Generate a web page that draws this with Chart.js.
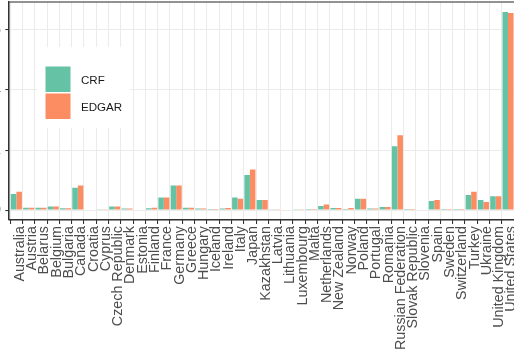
<!DOCTYPE html>
<html>
<head>
<meta charset="utf-8">
<script src="https://cdn.jsdelivr.net/npm/chart.js@4"></script>
<style>
  html, body { margin: 0; padding: 0; background: #fff; overflow: hidden; }
  #wrap { position: relative; width: 514px; height: 356px; overflow: hidden; }
  #box { position: absolute; left: -30px; top: 0; width: 550px; height: 356px; }
</style>
</head>
<body>
<div id="wrap"><div id="box"><canvas id="c"></canvas></div></div>
<script>
// Greenhouse gas totals per country, CRF inventory vs EDGAR estimate
const countries = [
  'Australia', 'Austria', 'Belarus', 'Belgium', 'Bulgaria', 'Canada', 'Croatia',
  'Cyprus', 'Czech Republic', 'Denmark', 'Estonia', 'Finland', 'France', 'Germany',
  'Greece', 'Hungary', 'Iceland', 'Ireland', 'Italy', 'Japan', 'Kazakhstan',
  'Latvia', 'Lithuania', 'Luxembourg', 'Malta', 'Netherlands', 'New Zealand',
  'Norway', 'Poland', 'Portugal', 'Romania', 'Russian Federation', 'Slovak Republic',
  'Slovenia', 'Spain', 'Sweden', 'Switzerland', 'Turkey', 'Ukraine',
  'United Kingdom', 'United States'
];
const crf = [
  0.54, 0.08, 0.08, 0.12, 0.06, 0.74, 0.02,
  0.01, 0.12, 0.05, 0.02, 0.06, 0.42, 0.82,
  0.08, 0.05, 0.005, 0.05, 0.42, 1.17, 0.34,
  0.01, 0.02, 0.01, 0.003, 0.14, 0.07,
  0.04, 0.38, 0.05, 0.10, 2.13, 0.04,
  0.02, 0.30, 0.04, 0.04, 0.50, 0.34,
  0.46, 6.60
];
const edgar = [
  0.61, 0.08, 0.08, 0.12, 0.06, 0.82, 0.02,
  0.01, 0.12, 0.05, 0.02, 0.08, 0.42, 0.82,
  0.08, 0.05, 0.005, 0.07, 0.38, 1.35, 0.34,
  0.01, 0.02, 0.01, 0.003, 0.19, 0.07,
  0.07, 0.38, 0.05, 0.10, 2.49, 0.04,
  0.02, 0.34, 0.04, 0.04, 0.61, 0.27,
  0.46, 6.56
];
const seriesNames = ['CRF', 'EDGAR'];
const seriesColors = ['#66C2A5', '#FC8D62'];
const yTicks = [0, 2, 4, 6];

const FONT = "'Liberation Sans', Arial, sans-serif";
const INK = '#333333';
const GRID = '#EBEBEB';

// ggplot-style discrete expansion of 0.6 categories, 5% on the value axis
const yMax = Math.max(...crf, ...edgar);
const yPad = yMax * 0.05;

const panelFrame = {
  id: 'panelFrame',
  afterDatasetsDraw(chart) {
    const ctx = chart.ctx;
    const a = chart.chartArea;
    // legend box drawn inside the panel
    const lx = 67, ly = 47;
    ctx.save();
    ctx.fillStyle = '#ffffff';
    ctx.fillRect(lx, ly, 93, 81);
    chart.data.datasets.forEach((ds, i) => {
      const ky = ly + 19.5 + i * 27;
      ctx.fillStyle = ds.backgroundColor;
      ctx.fillRect(lx + 8.5, ky, 25, 25.5);
      ctx.fillStyle = '#1a1a1a';
      ctx.font = '11.6px ' + FONT;
      ctx.textBaseline = 'middle';
      ctx.textAlign = 'left';
      ctx.fillText(ds.label, lx + 44, ky + 14.5);
    });
    // panel border
    ctx.strokeStyle = INK;
    ctx.lineWidth = 1.07;
    ctx.strokeRect(a.left, a.top, a.right - a.left, a.bottom - a.top);
    ctx.restore();
  }
};

new Chart(document.getElementById('c'), {
  type: 'bar',
  data: {
    datasets: [crf, edgar].map((vals, k) => ({
      label: seriesNames[k],
      data: vals.map((v, i) => ({ x: i, y: v })),
      backgroundColor: seriesColors[k],
      borderWidth: 0,
      categoryPercentage: 0.9,
      barPercentage: 1.0
    }))
  },
  options: {
    responsive: true,
    maintainAspectRatio: false,
    animation: false,
    devicePixelRatio: 1,
    layout: { padding: { top: 2, right: 4.6, left: 0, bottom: 0 } },
    plugins: { legend: { display: false }, tooltip: { enabled: false } },
    scales: {
      x: {
        type: 'linear',
        min: -0.6,
        max: countries.length - 1 + 0.6,
        offset: false,
        afterBuildTicks: s => { s.ticks = countries.map((_, i) => ({ value: i })); },
        afterFit: s => { s.height = 136; s.paddingLeft = 0; s.paddingRight = 0; },
        grid: { color: GRID, lineWidth: 1.07, tickLength: 4, tickColor: INK, tickWidth: 1.07 },
        border: { color: INK, width: 1.07 },
        ticks: {
          autoSkip: false,
          minRotation: 90,
          maxRotation: 90,
          padding: 2,
          labelOffset: 3.5,
          color: '#4D4D4D',
          font: { family: FONT, size: 14.3 },
          callback: v => countries[v]
        }
      },
      y: {
        type: 'linear',
        min: -yPad,
        max: yMax + yPad,
        afterBuildTicks: s => { s.ticks = yTicks.map(v => ({ value: v })); },
        afterFit: s => { s.width = 39; s.paddingTop = 0; s.paddingBottom = 0; },
        grid: { color: GRID, lineWidth: 1.07, tickLength: 3.7, tickColor: INK, tickWidth: 1.07 },
        border: { color: INK, width: 1.07 },
        ticks: {
          padding: 4.3,
          color: '#4D4D4D',
          font: { family: FONT, size: 14.3 },
          callback: v => String(v)
        }
      }
    }
  },
  plugins: [panelFrame]
});
</script>
</body>
</html>
